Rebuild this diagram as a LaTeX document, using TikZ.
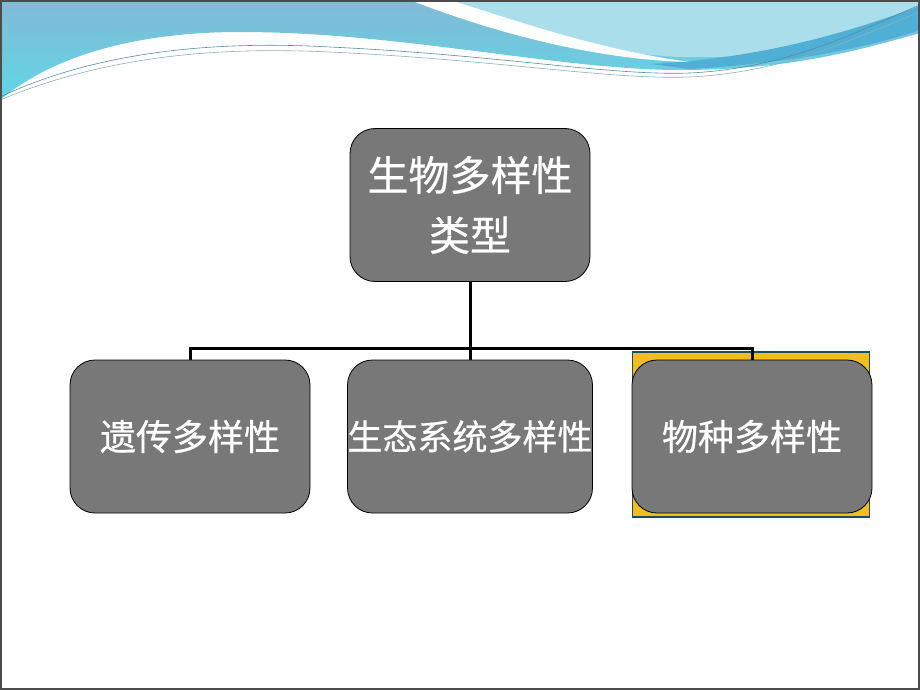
\documentclass[tikz,border=0pt]{standalone}
\usepackage{fontspec}
\setmainfont{Noto Sans CJK SC}[FakeBold=0.6,AutoFakeBold=0.6]
\usetikzlibrary{positioning}
\definecolor{boxgray}{RGB}{120,120,120}
\definecolor{gold}{RGB}{240,190,30}
\definecolor{teal}{RGB}{30,75,95}
\definecolor{wavetop}{RGB}{130,186,214}
\definecolor{wavebot}{RGB}{96,214,230}
\definecolor{wavelight}{RGB}{170,222,234}
\definecolor{waveband}{RGB}{80,175,212}
\definecolor{waveline}{RGB}{90,140,160}
\tikzstyle{typebox}=[rectangle,rounded corners=25pt,minimum width=240pt,minimum height=153pt,inner sep=0pt,text centered,draw=black,line width=0.8pt,fill=boxgray,text=white]
\tikzstyle{hilite}=[rectangle,minimum width=237pt,minimum height=165pt,draw=teal,line width=1.5pt,fill=gold]
\tikzstyle{link}=[line width=3pt,black]

\begin{document}
\begin{tikzpicture}[x=1pt,y=-1pt,node distance=231.5pt]
\useasboundingbox (0,0) rectangle (920,690);
\fill[white] (0,0) rectangle (920,690);

% banner at the top
\shade[top color=wavetop,bottom color=wavebot] (0,0) -- (0,100) .. controls (60,50) and (150,32) .. (240,32) .. controls (400,32) and (560,70) .. (680,70) .. controls (790,70) and (860,50) .. (920,33) -- (920,0) -- cycle;
\fill[wavelight] (440,0) .. controls (530,35) and (610,54) .. (680,57) .. controls (790,60) and (870,35) .. (920,12) -- (920,0) -- cycle;
\fill[waveband] (650,64) .. controls (770,58) and (860,28) .. (920,6) -- (920,30) .. controls (860,50) and (780,64) .. (690,69) -- cycle;
\fill[white] (410,0) .. controls (500,35) and (600,60) .. (690,62) .. controls (600,50) and (520,22) .. (450,0) -- cycle;
\draw[waveline,line width=0.6pt] (0,97) .. controls (110,45) and (240,42) .. (330,47) .. controls (500,55) and (610,76) .. (690,73) .. controls (790,68) and (860,30) .. (920,5);
\draw[waveline!70,line width=0.6pt] (0,100) .. controls (120,50) and (240,48) .. (330,52) .. controls (500,60) and (610,80) .. (690,77) .. controls (790,72) and (860,35) .. (920,12);

% slide frame
\draw[gray!60!black,line width=1.5pt] (1,1) rectangle (919,689);

\node (root) [typebox,align=center,font=\fontsize{41}{60}\selectfont] at (470,205) {生物多样性\\类型};
\node (hl) [hilite,below of=root,xshift=281pt,yshift=2pt] {};
\node (gene) [typebox,below of=root,xshift=-280pt,font=\fontsize{36}{40}\selectfont] {遗传多样性};
\node (eco) [typebox,below of=root,font=\fontsize{35}{40}\selectfont] {生态系统多样性};
\node (species) [typebox,below of=root,xshift=282pt,font=\fontsize{36}{40}\selectfont] {物种多样性};

\coordinate (hub) at (470,348);
\draw[link] (root) -- (hub);
\draw[link] (hub) -| (gene);
\draw[link] (hub) -- (eco);
\draw[link] (hub) -| (species);
\end{tikzpicture}
\end{document}
